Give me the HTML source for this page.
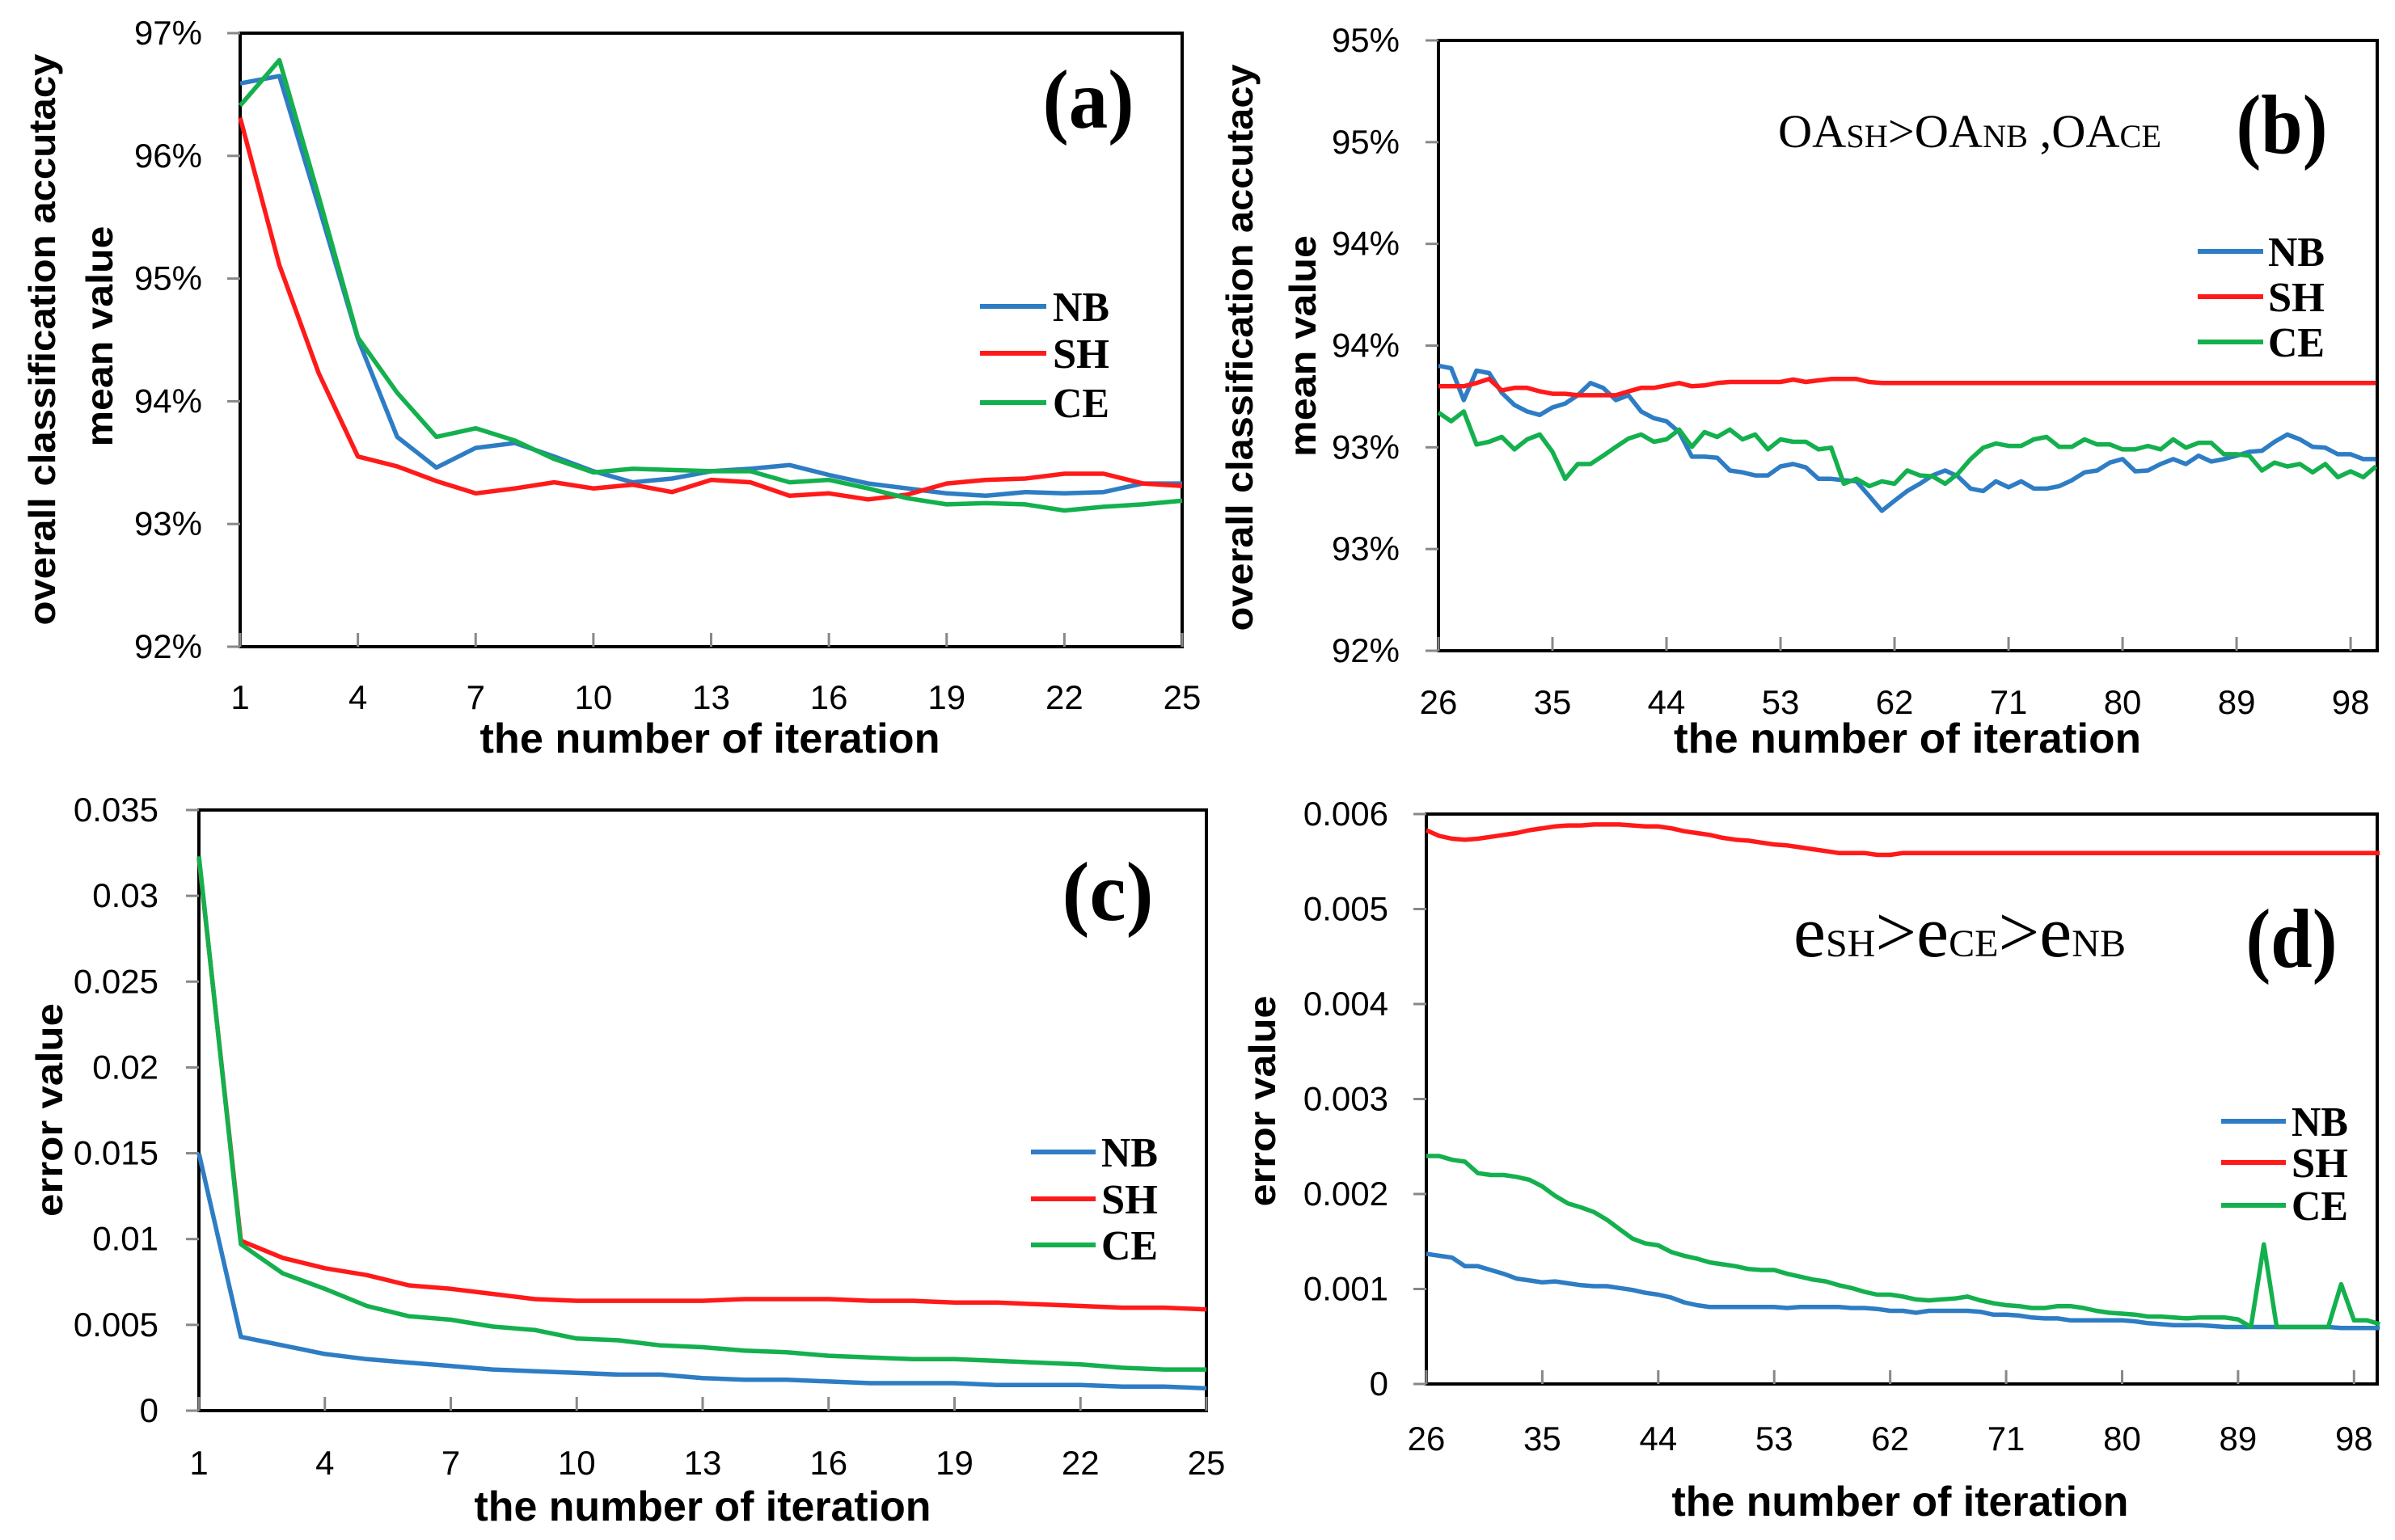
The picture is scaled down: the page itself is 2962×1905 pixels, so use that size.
<!DOCTYPE html>
<html><head><meta charset="utf-8"><style>
html,body{margin:0;padding:0;background:#fff}
svg{display:block}
</style></head><body>
<svg id="fig" width="2962" height="1905" viewBox="0 0 2962 1905" xmlns="http://www.w3.org/2000/svg"></svg>
<script>
// ---------- Panel (a) data ----------
const aIter = [1,2,3,4,5,6,7,8,9,10,11,12,13,14,15,16,17,18,19,20,21,22,23,24,25];
const aNB = [96.59,96.65,95.59,94.51,93.71,93.46,93.62,93.66,93.55,93.43,93.34,93.37,93.43,93.45,93.48,93.40,93.33,93.29,93.25,93.23,93.26,93.25,93.26,93.33,93.33];
const aSH = [96.31,95.11,94.23,93.55,93.47,93.35,93.25,93.29,93.34,93.29,93.32,93.26,93.36,93.34,93.23,93.25,93.20,93.24,93.33,93.36,93.37,93.41,93.41,93.33,93.31];
const aCE = [96.41,96.78,95.67,94.52,94.07,93.71,93.78,93.68,93.53,93.42,93.45,93.44,93.43,93.43,93.34,93.36,93.29,93.21,93.16,93.17,93.16,93.11,93.14,93.16,93.19];
const aYTicks = [92,93,94,95,96,97];
const aYLabels = ["92%","93%","94%","95%","96%","97%"];
const aXTicks = [1,4,7,10,13,16,19,22,25];

// ---------- Panel (b) data (iterations 26..100) ----------
const bStart = 26;
const bNBpx = [745,750,815,755,760,800,825,838,845,830,822,805,780,790,815,805,838,852,858,880,930,930,932,958,962,968,968,950,945,952,975,975,978,980,1010,1040,1020,1000,985,968,958,970,995,1000,980,992,980,995,995,990,978,962,958,942,935,960,958,945,935,945,928,940,935,928,920,918,900,885,895,910,912,925,925,935,935];
const bSHpx = [787,787,787,780,772,795,790,790,797,802,802,805,805,805,805,797,790,790,785,780,787,785,780,778,778,778,778,778,773,778,775,772,772,772,778,780,780,780,780,780,780,780,780,780,780,780,780,780,780,780,780,780,780,780,780,780,780,780,780,780,780,780,780,780,780,780,780,780,780,780,780,780,780,780,780];
const bCEpx = [840,858,838,905,900,890,915,895,885,920,975,945,945,928,910,893,885,900,895,875,910,880,890,875,895,885,915,895,900,900,915,912,985,975,990,980,985,958,968,970,985,965,935,912,903,908,908,895,890,910,910,895,905,905,915,915,908,915,895,912,902,902,925,925,928,958,942,950,945,962,945,972,960,972,950];
// readings were taken in a zoomed pixel frame; converted to percent values here
const bNB = bNBpx.map(p => +(95 - (p-83)/414).toFixed(3));
const bSH = bSHpx.map(p => +(95 - (p-83)/414).toFixed(3));
const bCE = bCEpx.map(p => +(95 - (p-83)/414).toFixed(3));
const bYTicks = [92,92.5,93,93.5,94,94.5,95];
const bYLabels = ["92%","93%","93%","94%","94%","95%","95%"];
const bXTicks = [26,35,44,53,62,71,80,89,98];

// ---------- Panel (c) data ----------
const cIter = [1,2,3,4,5,6,7,8,9,10,11,12,13,14,15,16,17,18,19,20,21,22,23,24,25];
const cNB = [0.015,0.0043,0.0038,0.0033,0.003,0.0028,0.0026,0.0024,0.0023,0.0022,0.0021,0.0021,0.0019,0.0018,0.0018,0.0017,0.0016,0.0016,0.0016,0.0015,0.0015,0.0015,0.0014,0.0014,0.0013];
const cSH = [0.0322,0.0099,0.0089,0.0083,0.0079,0.0073,0.0071,0.0068,0.0065,0.0064,0.0064,0.0064,0.0064,0.0065,0.0065,0.0065,0.0064,0.0064,0.0063,0.0063,0.0062,0.0061,0.006,0.006,0.0059];
const cCE = [0.0323,0.0097,0.008,0.0071,0.0061,0.0055,0.0053,0.0049,0.0047,0.0042,0.0041,0.0038,0.0037,0.0035,0.0034,0.0032,0.0031,0.003,0.003,0.0029,0.0028,0.0027,0.0025,0.0024,0.0024];
const cYTicks = [0,0.005,0.01,0.015,0.02,0.025,0.03,0.035];
const cYLabels = ["0","0.005","0.01","0.015","0.02","0.025","0.03","0.035"];
const cXTicks = [1,4,7,10,13,16,19,22,25];

// ---------- Panel (d) data (iterations 26..100) ----------
const dStart = 26;
const dSH = [0.00583,0.00577,0.00574,0.00573,0.00574,0.00576,0.00578,0.0058,0.00583,0.00585,0.00587,0.00588,0.00588,0.00589,0.00589,0.00589,0.00588,0.00587,0.00587,0.00585,0.00582,0.0058,0.00578,0.00575,0.00573,0.00572,0.0057,0.00568,0.00567,0.00565,0.00563,0.00561,0.00559,0.00559,0.00559,0.00557,0.00557,0.00559,0.00559,0.00559,0.00559,0.00559,0.00559,0.00559,0.00559,0.00559,0.00559,0.00559,0.00559,0.00559,0.00559,0.00559,0.00559,0.00559,0.00559,0.00559,0.00559,0.00559,0.00559,0.00559,0.00559,0.00559,0.00559,0.00559,0.00559,0.00559,0.00559,0.00559,0.00559,0.00559,0.00559,0.00559,0.00559,0.00559,0.00559];
const dNB = [0.00137,0.00135,0.00133,0.00124,0.00124,0.0012,0.00116,0.00111,0.00109,0.00107,0.00108,0.00106,0.00104,0.00103,0.00103,0.00101,0.00099,0.00096,0.00094,0.00091,0.00086,0.00083,0.00081,0.00081,0.00081,0.00081,0.00081,0.00081,0.0008,0.00081,0.00081,0.00081,0.00081,0.0008,0.0008,0.00079,0.00077,0.00077,0.00075,0.00077,0.00077,0.00077,0.00077,0.00076,0.00073,0.00073,0.00072,0.0007,0.00069,0.00069,0.00067,0.00067,0.00067,0.00067,0.00067,0.00066,0.00064,0.00063,0.00062,0.00062,0.00062,0.00061,0.0006,0.0006,0.0006,0.0006,0.0006,0.0006,0.0006,0.0006,0.0006,0.00059,0.00059,0.00059,0.00059];
const dCE = [0.0024,0.0024,0.00236,0.00234,0.00222,0.0022,0.0022,0.00218,0.00215,0.00208,0.00198,0.0019,0.00186,0.00181,0.00173,0.00163,0.00153,0.00148,0.00146,0.00139,0.00135,0.00132,0.00128,0.00126,0.00124,0.00121,0.0012,0.0012,0.00116,0.00113,0.0011,0.00108,0.00104,0.00101,0.00097,0.00094,0.00094,0.00092,0.00089,0.00088,0.00089,0.0009,0.00092,0.00088,0.00085,0.00083,0.00082,0.0008,0.0008,0.00082,0.00082,0.0008,0.00077,0.00075,0.00074,0.00073,0.00071,0.00071,0.0007,0.00069,0.0007,0.0007,0.0007,0.00068,0.0006,0.00147,0.0006,0.0006,0.0006,0.0006,0.0006,0.00105,0.00067,0.00067,0.00063];
const dYTicks = [0,0.001,0.002,0.003,0.004,0.005,0.006];
const dYLabels = ["0","0.001","0.002","0.003","0.004","0.005","0.006"];
const dXTicks = [26,35,44,53,62,71,80,89,98];

const COLORS = {NB:"#2e7dc4", SH:"#ff1a1a", CE:"#14b04e"};
const NS = "http://www.w3.org/2000/svg";
const svg = document.getElementById("fig");
const TICKFONT = '"Liberation Sans Narrow","Liberation Sans",sans-serif';
const SERIF = '"Liberation Serif",serif';

function mk(tag, attrs, parent){
  const e = document.createElementNS(NS, tag);
  for (const k in attrs) e.setAttribute(k, attrs[k]);
  (parent||svg).appendChild(e);
  return e;
}
function seq(start, n){ const r=[]; for(let i=0;i<n;i++) r.push(start+i); return r; }

function panel(cfg){
  const g = mk("g", {});
  
  
  const X = v => cfg.L + (v - cfg.xmin)/(cfg.xmax - cfg.xmin)*(cfg.R - cfg.L);
  const Y = v => cfg.B - (v - cfg.ymin)/(cfg.ymax - cfg.ymin)*(cfg.B - cfg.T);
  // frame
  const fr = mk("rect", {x:cfg.L, y:cfg.T, width:cfg.R-cfg.L, height:cfg.B-cfg.T, fill:"none", stroke:"#000", "stroke-width":4}, g);
  
  
  // y ticks
  cfg.yTicks.forEach((t,i) => {
    const y = Y(t);
    mk("line", {x1:cfg.L-16, x2:cfg.L, y1:y, y2:y, stroke:"#888", "stroke-width":3}, g);
    const tx = mk("text", {x:cfg.yLabX, y:y+14, "text-anchor":"end", "font-family":TICKFONT, "font-size":42, fill:"#000"}, g);
    tx.textContent = cfg.yLabels[i];
    
    
  });
  // x ticks
  cfg.xTicks.forEach(t => {
    const x = X(t);
    mk("line", {x1:x, x2:x, y1:cfg.B-17, y2:cfg.B, stroke:"#888", "stroke-width":3}, g);
    const tx = mk("text", {x:x, y:cfg.xLabY+15, "text-anchor":"middle", "font-family":TICKFONT, "font-size":42, fill:"#000"}, g);
    tx.textContent = String(t);
    
    
  });
  // series
  cfg.series.forEach(s => {
    const pts = s.y.map((v,i) => X(s.x[i]).toFixed(1)+","+Y(v).toFixed(1)).join(" ");
    const pl = mk("polyline", {points:pts, fill:"none", stroke:COLORS[s.k], "stroke-width":5.5, "stroke-linejoin":"round"}, g);
    
    
  });
  // x title
  const xt = mk("text", {x:cfg.xTitleX, y:cfg.xTitleY+17, "text-anchor":"middle", "font-family":TICKFONT, "font-weight":"bold", "font-size":52, textLength:cfg.xTitleW, lengthAdjust:"spacingAndGlyphs"}, g);
  xt.textContent = cfg.xTitle;
  
  
  // y title lines
  cfg.yTitle.forEach(l => {
    const t = mk("text", {x:0, y:0, "text-anchor":"middle", "font-family":'"Liberation Sans",sans-serif', "font-weight":"bold", "font-size":46, textLength:l.w, lengthAdjust:"spacingAndGlyphs", transform:`translate(${l.x+16},${l.cy}) rotate(-90)`}, g);
    t.textContent = l.text;
    
    
  });
  // panel label
  const pl = mk("text", {x:cfg.lab.x, y:cfg.lab.y+34, "text-anchor":"middle", "font-family":SERIF, "font-weight":"bold", "font-size":104, textLength:113, lengthAdjust:"spacingAndGlyphs"}, g);
  pl.textContent = cfg.lab.t;
  
  
  // legend
  const lg = mk("g", {}, g);
  
  
  ["NB","SH","CE"].forEach((k,i) => {
    const y = cfg.leg.ys[i];
    mk("line", {x1:cfg.leg.x1, x2:cfg.leg.x2, y1:y, y2:y, stroke:COLORS[k], "stroke-width":6}, lg);
    const t = mk("text", {x:cfg.leg.tx, y:y+18, "font-family":SERIF, "font-weight":"bold", "font-size":52, textLength:70, lengthAdjust:"spacingAndGlyphs"}, lg);
    t.textContent = k;
    
    
  });
  return g;
}

panel({name:"panel-a", L:297, R:1462, T:41, B:800, xmin:1, xmax:25, ymin:92, ymax:97,
  yTicks:aYTicks, yLabels:aYLabels, xTicks:aXTicks, yLabX:250, xLabY:862,
  series:[{k:"NB",x:aIter,y:aNB},{k:"SH",x:aIter,y:aSH},{k:"CE",x:aIter,y:aCE}],
  xTitle:"the number of iteration", xTitleX:878, xTitleY:914, xTitleW:569,
  yTitle:[{text:"overall classification accutacy", x:52, cy:420, w:707},{text:"mean value", x:123, cy:416, w:273}],
  lab:{t:"(a)", x:1346, y:124}, leg:{x1:1212, x2:1294, tx:1302, ys:[379,437,498]}});

const bIter = seq(bStart, bNB.length);
const gb = panel({name:"panel-b", L:1779, R:2940, T:50, B:805, xmin:26, xmax:100.1, ymin:92, ymax:95,
  yTicks:bYTicks, yLabels:bYLabels, xTicks:bXTicks, yLabX:1731, xLabY:868,
  series:[{k:"NB",x:bIter,y:bNB},{k:"SH",x:bIter,y:bSH},{k:"CE",x:bIter,y:bCE}],
  xTitle:"the  number of iteration", xTitleX:2359, xTitleY:914, xTitleW:578,
  yTitle:[{text:"overall classification accutacy", x:1533, cy:430, w:701},{text:"mean value", x:1611, cy:428, w:274}],
  lab:{t:"(b)", x:2822, y:155}, leg:{x1:2718, x2:2799, tx:2805, ys:[311,367,423]}});

const cg = panel({name:"panel-c", L:246, R:1492, T:1002, B:1745, xmin:1, xmax:25, ymin:0, ymax:0.035,
  yTicks:cYTicks, yLabels:cYLabels, xTicks:cXTicks, yLabX:196, xLabY:1809,
  series:[{k:"NB",x:cIter,y:cNB},{k:"SH",x:cIter,y:cSH},{k:"CE",x:cIter,y:cCE}],
  xTitle:"the number of iteration", xTitleX:869, xTitleY:1864, xTitleW:565,
  yTitle:[{text:"error value", x:61, cy:1373, w:264}],
  lab:{t:"(c)", x:1370, y:1104}, leg:{x1:1275, x2:1355, tx:1362, ys:[1425,1483,1540]}});

const dIter = seq(dStart, dNB.length);
const gd = panel({name:"panel-d", L:1764, R:2940, T:1007, B:1712, xmin:26, xmax:99.8, ymin:0, ymax:0.006,
  yTicks:dYTicks, yLabels:dYLabels, xTicks:dXTicks, yLabX:1717, xLabY:1779,
  series:[{k:"NB",x:dIter,y:dNB},{k:"SH",x:dIter,y:dSH},{k:"CE",x:dIter,y:dCE}],
  xTitle:"the number of iteration", xTitleX:2350, xTitleY:1858, xTitleW:565,
  yTitle:[{text:"error value", x:1561, cy:1362, w:261}],
  lab:{t:"(d)", x:2834, y:1162}, leg:{x1:2747, x2:2827, tx:2834, ys:[1387,1438,1491]}});

// annotations
const annB = mk("text", {x:2199, y:182, "font-family":SERIF, "font-size":58, textLength:474, lengthAdjust:"spacingAndGlyphs"});


annB.innerHTML = 'OA<tspan font-size="40">SH</tspan>&gt;OA<tspan font-size="40">NB</tspan> ,OA<tspan font-size="40">CE</tspan>';

const annD = mk("text", {x:2218, y:1183, "font-family":SERIF, "font-size":90, textLength:411, lengthAdjust:"spacingAndGlyphs"});


annD.innerHTML = 'e<tspan font-size="48">SH</tspan>&gt;e<tspan font-size="48">CE</tspan>&gt;e<tspan font-size="48">NB</tspan>';
</script>
</body></html>
